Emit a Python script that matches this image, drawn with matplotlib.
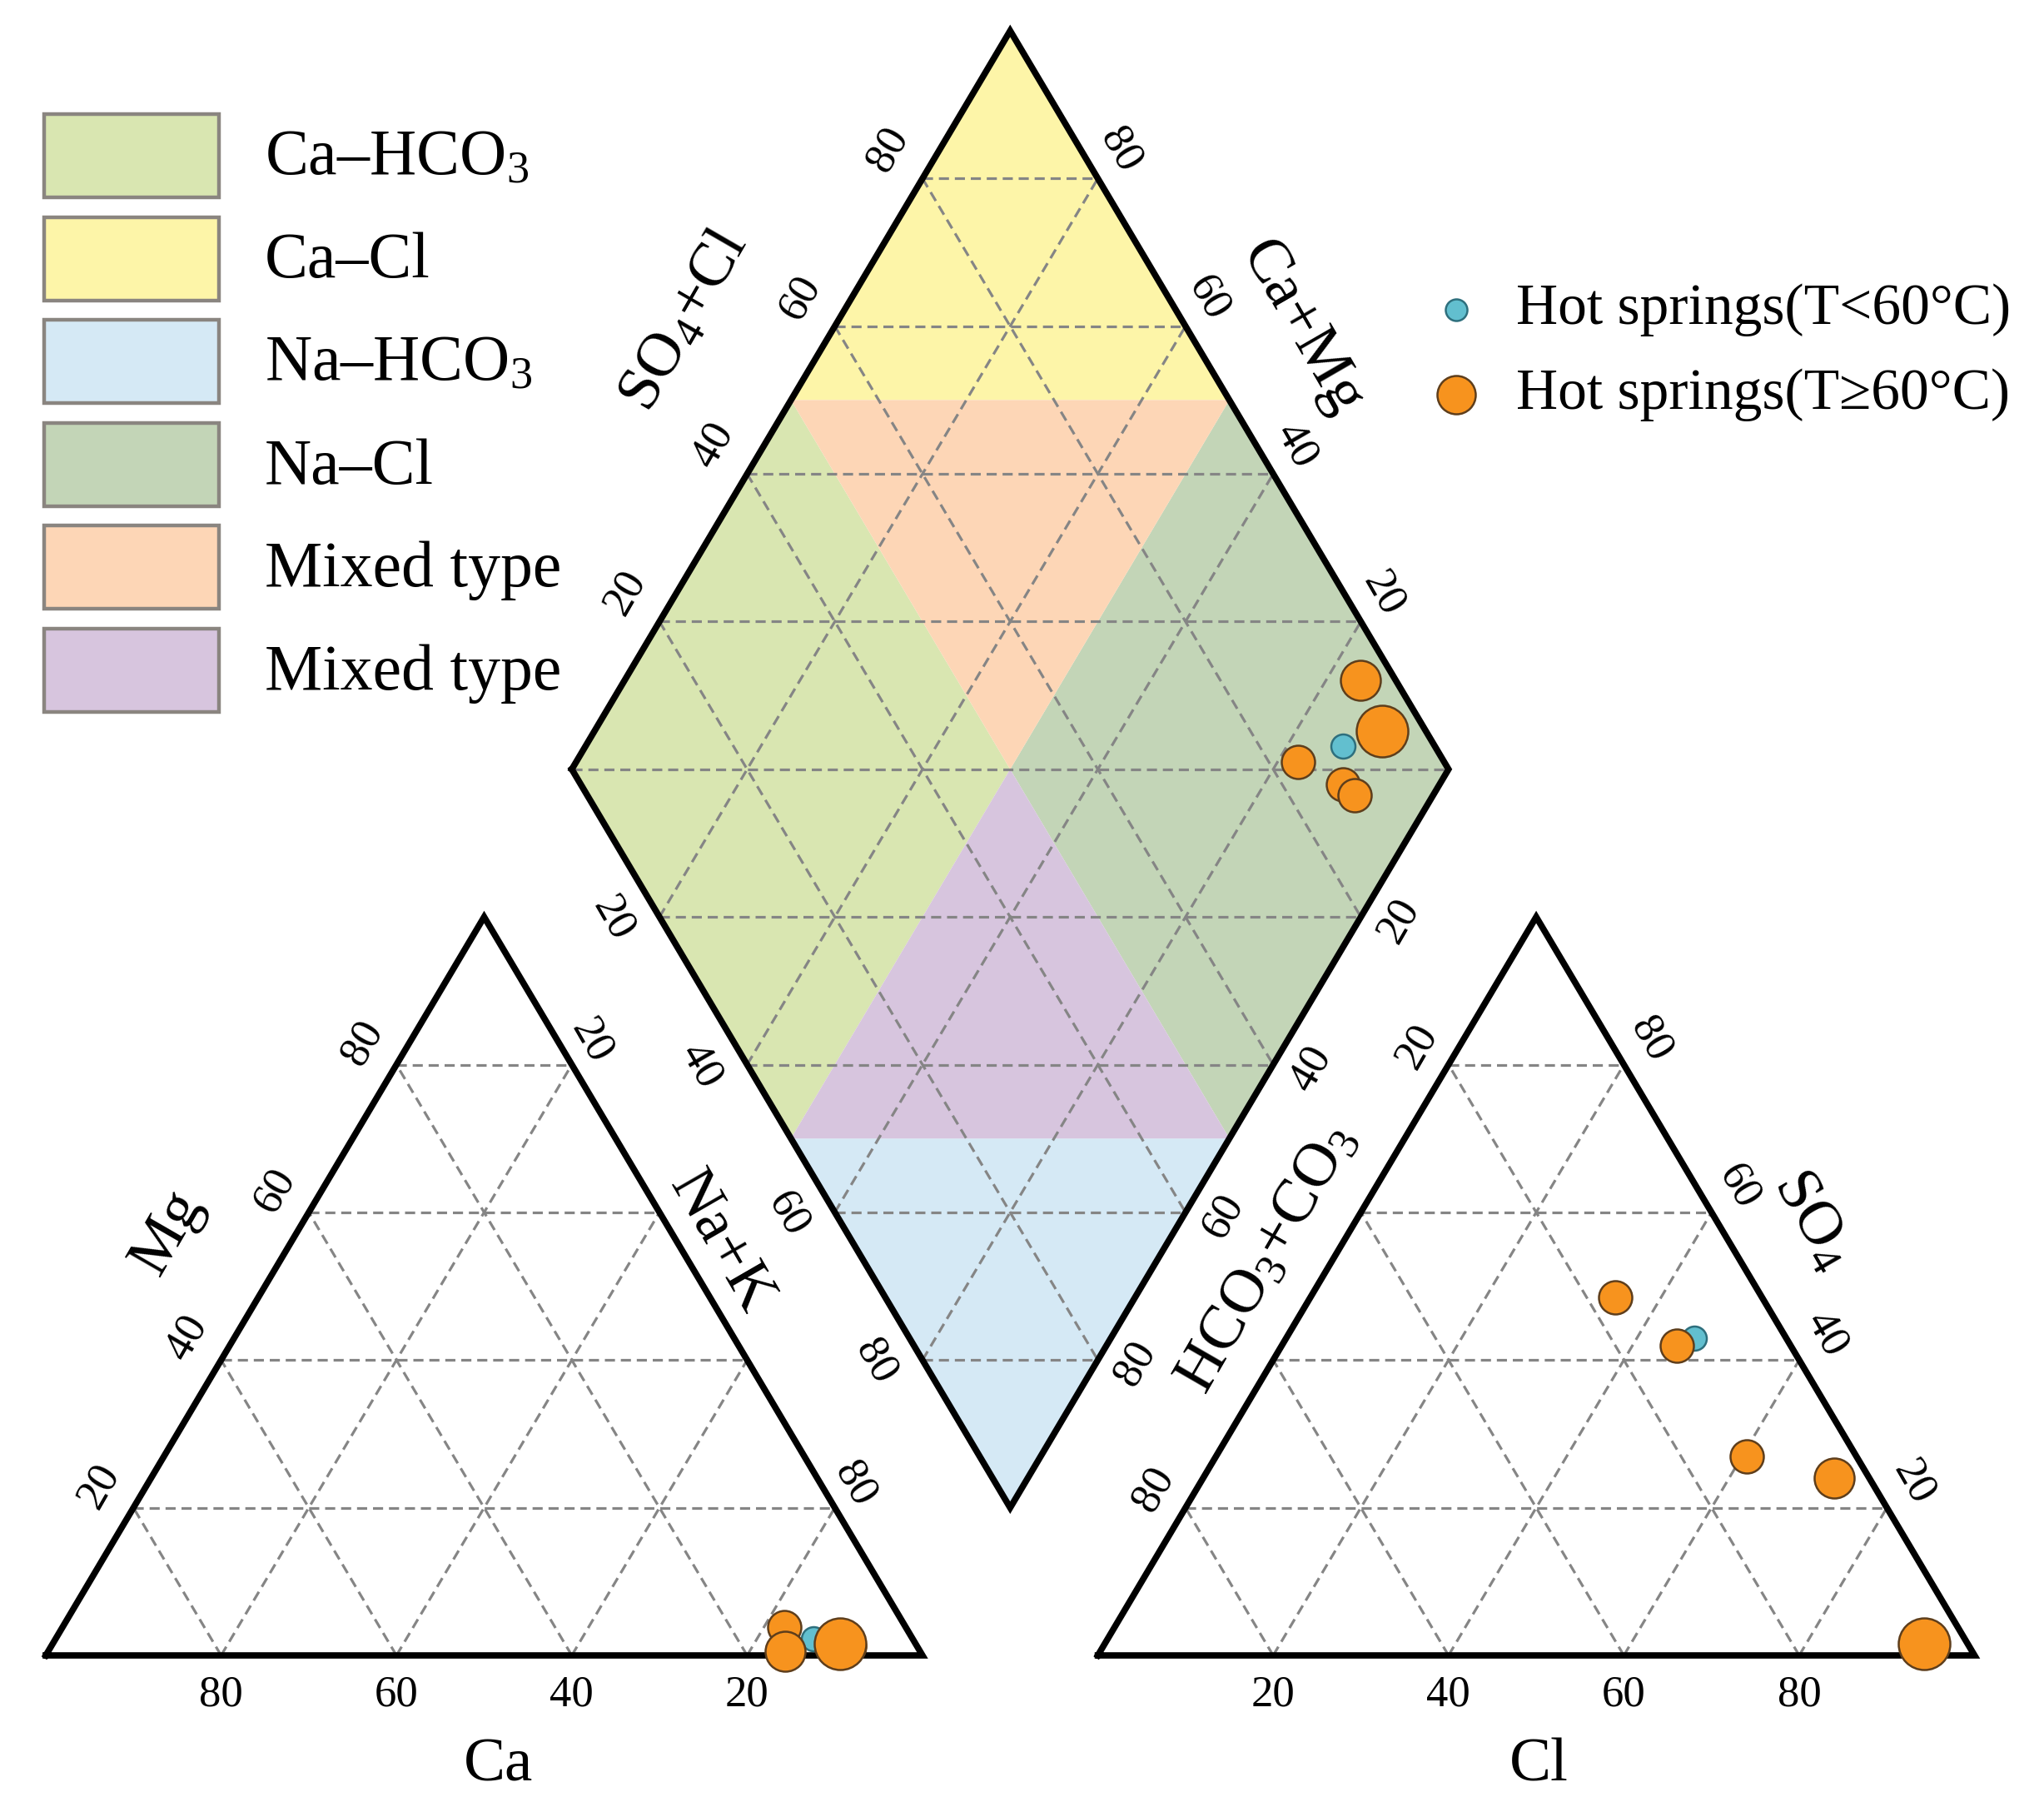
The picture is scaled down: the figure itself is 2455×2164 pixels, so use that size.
import matplotlib
matplotlib.use("Agg")
import matplotlib.pyplot as plt
import numpy as np
from matplotlib.patches import Polygon, Rectangle
from matplotlib.lines import Line2D

plt.rcParams['font.family'] = ['Liberation Serif', 'DejaVu Serif']
plt.rcParams['mathtext.fontset'] = 'custom'
plt.rcParams['mathtext.rm'] = 'Liberation Serif'
plt.rcParams['mathtext.it'] = 'Liberation Serif:italic'
plt.rcParams['mathtext.bf'] = 'Liberation Serif:bold'

# ---- sample chemistry (meq %) ----
sample_group = ["lt60", "ge60", "ge60", "ge60", "ge60", "ge60"]
ca = [11.3, 9.7, 7.8, 13.9, 15.4, 8.6]
mg = [2.3, 1.3, 1.2, 3.8, 0.6, 1.6]
na_k = [86.4, 89.0, 91.0, 82.3, 84.0, 89.8]
hco3 = [10.5, 13.0, 12.5, 16.7, 4.0, 5.0]
so4 = [43.0, 42.0, 27.0, 48.5, 24.0, 1.6]
cl = [46.5, 45.0, 60.5, 34.8, 72.0, 93.4]
dot_px = [29, 40, 40, 40, 48, 62]  # symbol diameter in px

ticks = [20, 40, 60, 80]

legend_types = ["Ca\u2013HCO$\\mathregular{_3}$", "Ca\u2013Cl", "Na\u2013HCO$\\mathregular{_3}$",
                "Na\u2013Cl", "Mixed type", "Mixed type"]
legend_colors = ["#d9e6b1", "#fdf5a8", "#d5e9f5", "#c3d5b7", "#fdd6b6", "#d7c5de"]
group_labels = {"lt60": "Hot springs(T<60\u00b0C)", "ge60": "Hot springs(T\u226560\u00b0C)"}

# ---- geometry ----
S = 100.0
G = 20.0
H = S * np.sqrt(3) / 2
OX_AN = S + G
DX0 = S / 2 + G / 2
DY0 = G * np.sqrt(3) / 2 + H


def cat_xy(n, m):
    return n * S + m * S / 2, m * H


def an_xy(c, s):
    return OX_AN + c * S + s * S / 2, s * H


def dia_xy(p, n):
    p = np.asarray(p, float)
    n = np.asarray(n, float)
    return DX0 + (p + n) * S / 2, DY0 + (p - n) * H


fig = plt.figure(figsize=(24.55, 21.64), dpi=100)
ax = fig.add_axes([0, 0, 1, 1])
ax.set_xlim(-5.22, 227.92)
ax.set_ylim(-17.19, 194.14)
ax.axis("off")

GRID = dict(color="#858585", lw=2.3, ls=(0, (3.8, 2.2)), zorder=2)
EDGE = dict(color="black", lw=5.5, zorder=4, solid_joinstyle="miter")

# diamond fill regions (fractions p = SO4+Cl, n = Na+K)
regions = [
    ([(0, 0), (0.5, 0), (0.5, 0.5), (0, 0.5)], legend_colors[0]),
    ([(0.5, 0), (1, 0), (1, 0.5)], legend_colors[1]),
    ([(0, 0.5), (0.5, 1), (0, 1)], legend_colors[2]),
    ([(0.5, 0.5), (1, 0.5), (1, 1), (0.5, 1)], legend_colors[3]),
    ([(0.5, 0), (1, 0.5), (0.5, 0.5)], legend_colors[4]),
    ([(0, 0.5), (0.5, 0.5), (0.5, 1)], legend_colors[5]),
]
for verts, col in regions:
    pv, nv = zip(*verts)
    xs, ys = dia_xy(pv, nv)
    ax.add_patch(Polygon(np.column_stack([xs, ys]), closed=True, fc=col, ec="none", zorder=1))


def tri_grid(ox):
    for k in ticks:
        f = k / 100
        ax.plot([ox + f * S / 2, ox + S - f * S / 2], [f * H, f * H], **GRID)
        ax.plot([ox + f * S, ox + f * S + (1 - f) * S / 2], [0, (1 - f) * H], **GRID)
        ax.plot([ox + f * S, ox + f * S / 2], [0, f * H], **GRID)
    ax.plot([ox, ox + S, ox + S / 2, ox], [0, 0, H, 0], **EDGE)


tri_grid(0)
tri_grid(OX_AN)

for k in ticks:
    f = k / 100
    xs, ys = dia_xy([f, f], [0, 1])
    ax.plot(xs, ys, **GRID)
    xs, ys = dia_xy([0, 1], [f, f])
    ax.plot(xs, ys, **GRID)
for c in [-0.8, -0.6, -0.4, -0.2, 0.0, 0.2, 0.4, 0.6, 0.8]:
    if c >= 0:
        xs, ys = dia_xy([c, 1], [0, 1 - c])
    else:
        xs, ys = dia_xy([0, 1 + c], [-c, 1])
    ax.plot(xs, ys, **GRID)
xs, ys = dia_xy([0, 1, 1, 0, 0], [0, 0, 1, 1, 0])
ax.plot(xs, ys, **EDGE)

# ---- tick labels ----
TK = dict(fontsize=38, ha="center", va="center", rotation_mode="anchor", zorder=5)
for k in ticks:
    f = k / 100
    ax.text(k, -4.6, str(100 - k), **TK)
    ax.text(OX_AN + k, -4.6, str(k), **TK)
    x, y = cat_xy(0, f)
    ax.text(x - 3.9, y + 2.6, str(k), rotation=60, **TK)
    x, y = an_xy(1 - f, f)
    ax.text(x + 3.1, y + 3.0, str(k), rotation=-60, **TK)
    x, y = dia_xy(f, 0)
    ax.text(x - 3.9, y + 3.4, str(k), rotation=60, **TK)
    x, y = dia_xy(1, 1 - f)
    ax.text(x + 2.6, y + 3.3, str(k), rotation=-60, **TK)
    x, y = dia_xy(0, f)
    ax.text(x - 5.3, y - 0.2, str(k), rotation=-60, **TK)
    x, y = dia_xy(1 - f, 1)
    ax.text(x + 4.3, y - 0.45, str(k), rotation=60, **TK)
for k in [20, 80]:
    f = k / 100
    x, y = cat_xy(f, 1 - f)
    ax.text(x + 2.3, y + 2.8, str(k), rotation=-60, **TK)
    x, y = an_xy(0, 1 - f)
    ax.text(x - 3.6, y + 2.2, str(k), rotation=60, **TK)

AX = dict(fontsize=54, ha="center", va="center", rotation_mode="anchor", zorder=5)
ax.text(51.6, -13.0, "Ca", **AX)
ax.text(170.3, -13.0, "Cl", **AX)
ax.text(13.9, 49.6, "Mg", rotation=60, **AX)
ax.text(77.0, 48.4, "Na+K", rotation=-60, **AX)
ax.text(139.4, 46.5, "HCO$\\mathregular{_3}$+CO$\\mathregular{_3}$", rotation=60, **AX)
ax.text(201.4, 51.0, "SO$\\mathregular{_4}$", rotation=-60, **AX)
ax.text(73.0, 156.5, "SO$\\mathregular{_4}$+Cl", rotation=60, **AX)
ax.text(143.2, 155.6, "Ca+Mg", rotation=-60, **AX)

# ---- samples ----
STY = {"lt60": dict(fc="#62bfcf", ec="#2e6f7d"), "ge60": dict(fc="#f7931e", ec="#5e3e1c")}
for i in range(len(ca)):
    tot_c = ca[i] + mg[i] + na_k[i]
    tot_a = hco3[i] + so4[i] + cl[i]
    n = na_k[i] / tot_c
    m = mg[i] / tot_c
    c = cl[i] / tot_a
    s = so4[i] / tot_a
    p = (so4[i] + cl[i]) / tot_a
    size = (dot_px[i] * 0.72) ** 2
    st = STY[sample_group[i]]
    pts = [cat_xy(n, m), an_xy(c, s), dia_xy(p, n)]
    for x, y in pts:
        ax.scatter([x], [y], s=size, facecolor=st["fc"], edgecolor=st["ec"],
                   linewidth=1.8, zorder=6 + i * 0.1)

# ---- legends (figure pixel layout) ----
W, HH = 2455.0, 2164.0


def fx(px):
    return px / W


def fy(py):
    return 1 - py / HH


for j, (lab, col) in enumerate(zip(legend_types, legend_colors)):
    yc = 187 + j * 123.6
    fig.add_artist(Rectangle((fx(53), fy(yc + 50)), fx(263) - fx(53), 100 / HH,
                             transform=fig.transFigure, fc=col, ec="#8a8580", lw=3.2))
    fig.text(fx(318), fy(yc + 4), lab, fontsize=56, ha="left", va="center")

for py, grp, d in [(372, "lt60", 26), (474, "ge60", 46)]:
    st = STY[grp]
    fig.add_artist(Line2D([fx(1749)], [fy(py)], marker="o", markersize=d * 0.72,
                          markerfacecolor=st["fc"], markeredgecolor=st["ec"],
                          markeredgewidth=1.8, transform=fig.transFigure))
    fig.text(fx(1821), fy(py), group_labels[grp], fontsize=50, ha="left", va="center")

fig.savefig("out.png", dpi=100, facecolor="white")
plt.close(fig)
